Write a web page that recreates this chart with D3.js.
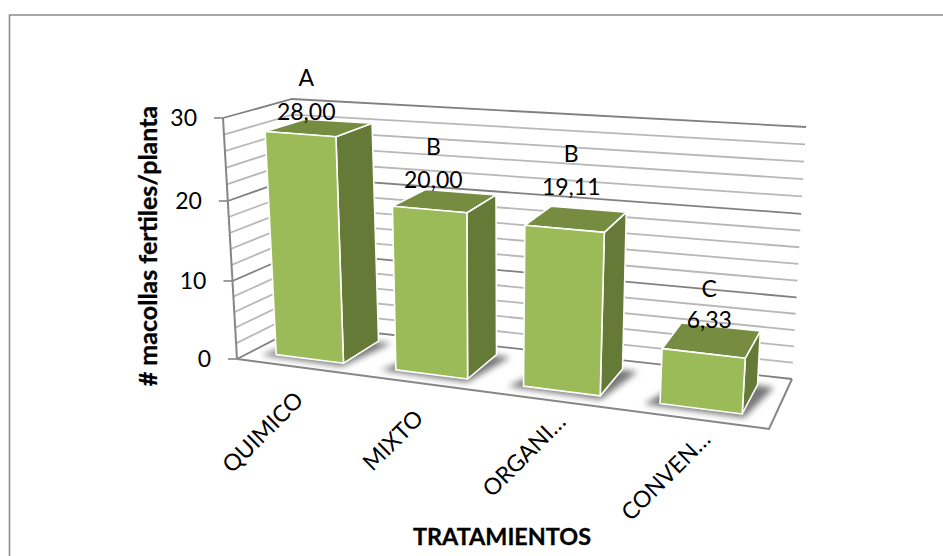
<!DOCTYPE html>
<html><head><meta charset="utf-8">
<script src="https://cdn.jsdelivr.net/npm/d3@7"></script>
<style>html,body{margin:0;padding:0;background:#fff}svg{display:block}text{font-family:Lato,"Noto Sans",sans-serif;fill:#000}</style>
</head><body>
<svg id="c" width="943" height="556"></svg>
<script>
// ---- data ----
const categories = ["QUIMICO","MIXTO","ORGANI…","CONVEN…"];
const values = [28.00,20.00,19.11,6.33];
const valueLabels = ["28,00","20,00","19,11","6,33"];
const groupLetters = ["A","B","B","C"];
const yTicks = [0,10,20,30];
const yMinorTicks = [0,2,4,6,8,10,12,14,16,18,20,22,24,26,28,30];
const xTitle = "TRATAMIENTOS";
const yTitle = "# macollas fertiles/planta";

// ---- layout of the 3D box (corner pixels of the plot cube) ----
const box = {
  flb:[237,359], flt:[223,118], frb:[769,429], frt:[786,159],
  blb:[303,325], blt:[292,99],  brb:[792,379], brt:[806,127]
};
const perspective = 0.143, barFront = 0.22, barBack = 0.82;
const labelOffsets = [[6,-22],[4,-30],[7,-42],[6,-34]];
const letterGap = [34,33,33,31];
const catOffsets = [[-3,23],[-7,25],[3,11],[6,10]];

const svg = d3.select("#c");
const defs = svg.append("defs");
defs.append("filter").attr("id","blur").attr("x","-30%").attr("y","-30%").attr("width","160%").attr("height","160%")
  .append("feGaussianBlur").attr("stdDeviation",3);

const xBand = d3.scaleBand().domain(categories).range([0,1]).paddingInner(0.43).paddingOuter(0.215);
const yVal = d3.scaleLinear().domain([0,30]).range([0,1]);
// the walls foreshorten slightly toward the top of the cube
const yWall = d3.scaleLinear().domain([0,10,20,30]).range([0,0.3237,0.6556,1]);
const lerp = (a,b,f)=>[a[0]+(b[0]-a[0])*f,a[1]+(b[1]-a[1])*f];
function project(t,v,w){
  const u = t/(1+perspective*(1-t));
  const fb = lerp(box.flb,box.frb,u), bb = lerp(box.blb,box.brb,u);
  const ft = lerp(box.flt,box.frt,u), bt = lerp(box.blt,box.brt,u);
  return lerp(lerp(fb,bb,v),lerp(ft,bt,v),w);
}
const line = d3.line();
const grey="#868686";

// chart frame (open on right and bottom, running off the picture)
svg.append("path").attr("d",line([[9.5,556],[9.5,15],[943,15]])).attr("fill","none").attr("stroke","#8c8c8c").attr("stroke-width",1.6);

// gridlines on back and side walls
const grid = svg.append("g").attr("fill","none");
yMinorTicks.forEach(d=>{
  const w=yWall(d), major=yTicks.includes(d);
  grid.append("path").attr("d",line([project(0,0,w),project(0,1,w),project(1,1,w)]))
    .attr("stroke",major?"#808080":"#b8b8b8").attr("stroke-width",1.8);
});
// floor
svg.append("path").attr("d",line([project(0,0,0),project(1,0,0),project(1,1,0)]))
  .attr("fill","none").attr("stroke",grey).attr("stroke-width",2);
// y axis
svg.append("path").attr("d",line([project(0,0,0),project(0,0,1)])).attr("fill","none").attr("stroke",grey).attr("stroke-width",2);
const ticks = svg.append("g");
yTicks.forEach(d=>{
  const p=project(0,0,yWall(d));
  ticks.append("path").attr("d",line([[p[0]-9,p[1]],p])).attr("stroke",grey).attr("stroke-width",1.6);
  ticks.append("text").attr("x",p[0]-26).attr("y",p[1]).attr("dy","0.36em").attr("text-anchor","end")
    .style("font-size","23px").text(d);
});

// bars
const bars = svg.append("g");
categories.forEach((c,i)=>{
  const t0=xBand(c), t1=t0+xBand.bandwidth();
  // floor shadow
  bars.append("path").attr("d",line([project(t0-0.025,barFront-0.05,0),project(t1+0.006,barFront-0.07,0),
      project(t1+0.03,barBack-0.02,0),project(t0+0.02,barBack,0)])+"Z")
    .attr("fill","#777").attr("filter","url(#blur)");
});
categories.forEach((c,i)=>{
  const t0=xBand(c), t1=t0+xBand.bandwidth(), w=yVal(values[i]);
  const face=(pts,fill)=>bars.append("path").attr("d",line(pts)+"Z").attr("fill",fill)
      .attr("stroke","#fff").attr("stroke-width",1.6).attr("stroke-linejoin","round");
  face([project(t1,barFront,0),project(t1,barBack,0),project(t1,barBack,w),project(t1,barFront,w)],"#657a37");
  face([project(t0,barFront,w),project(t1,barFront,w),project(t1,barBack,w),project(t0,barBack,w)],"#758c41");
  face([project(t0,barFront,0),project(t1,barFront,0),project(t1,barFront,w),project(t0,barFront,w)],"#9bbb59");
});

// value and group labels
const labels = svg.append("g").attr("text-anchor","middle").style("font-size","23px");
categories.forEach((c,i)=>{
  const p=project(xBand(c)+xBand.bandwidth()/2,barFront,yVal(values[i]));
  const x=p[0]+labelOffsets[i][0], y=p[1]+labelOffsets[i][1];
  labels.append("text").attr("x",x).attr("y",y).attr("dy","0.36em").text(valueLabels[i]);
  labels.append("text").attr("x",x).attr("y",y-letterGap[i]).attr("dy","0.36em").text(groupLetters[i]);
});

// category labels
categories.forEach((c,i)=>{
  const p=project(xBand(c)+xBand.bandwidth()/2,0,0);
  const x=p[0]+catOffsets[i][0], y=p[1]+catOffsets[i][1];
  svg.append("text").attr("transform",`translate(${x},${y}) rotate(-45)`).attr("text-anchor","end")
    .attr("dy","0.72em").style("font-size","23px").text(c);
});

// titles
svg.append("text").attr("x",502).attr("y",537).attr("dy","0.36em").attr("text-anchor","middle")
  .style("font-size","23.4px").style("font-weight","700").style("stroke","#000").style("stroke-width",0.3).text(xTitle);
svg.append("text").attr("transform","translate(148,246) rotate(-90)").attr("dy","0.36em").attr("text-anchor","middle")
  .style("font-size","25px").style("font-weight","700").style("stroke","#000").style("stroke-width",0.3).text(yTitle);
</script>
</body></html>
